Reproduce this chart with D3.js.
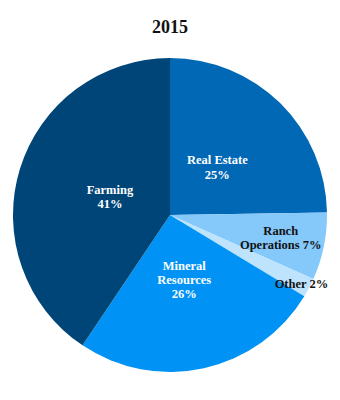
<!DOCTYPE html>
<html><head><meta charset="utf-8">
<script src="https://cdn.jsdelivr.net/npm/d3@7"></script>
<style>html,body{margin:0;padding:0;background:#fff;}</style>
</head><body>
<svg id="chart" width="340" height="400"></svg>
<script>
const title = "2015";
const categories = ["Real Estate", "Ranch Operations", "Other", "Mineral Resources", "Farming"];
const values = [25, 7, 2, 26, 41];
const labelLines = [["Real Estate", "25%"], ["Ranch", "Operations 7%"], ["Other 2%"], ["Mineral", "Resources", "26%"], ["Farming", "41%"]];
const colors = ["#0068b5", "#85c8fa", "#bde3fd", "#0093f5", "#004578"];
const labelColors = ["#fff", "#111", "#111", "#fff", "#fff"];

const svg = d3.select("#chart");
const cx = 170, cy = 215, r = 157;
svg.append("text").attr("x", 170).attr("y", 33).attr("text-anchor", "middle")
  .attr("font-family", "'Liberation Serif', 'Times New Roman', serif").attr("font-weight", "bold")
  .attr("font-size", 18).attr("fill", "#111").text(title);

const data = categories.map((c, i) => ({cat: c, value: values[i], i}));
const pie = d3.pie().value(d => d.value).sort(null);
const arc = d3.arc().innerRadius(0).outerRadius(r);
const g = svg.append("g").attr("transform", `translate(${cx},${cy})`);
const arcs = pie(data);
g.selectAll("path").data(arcs).enter().append("path")
  .attr("d", arc).attr("fill", d => colors[d.data.i]);

// label anchor positions as radial fraction of radius per slice
const labelRadius = [0.43, 0.72, 0.945, 0.42, 0.40];
const lineH = 14.3;
arcs.forEach((a, k) => {
  const mid = (a.startAngle + a.endAngle) / 2;
  const rr = labelRadius[k] * r;
  const x = Math.sin(mid) * rr, y = -Math.cos(mid) * rr;
  const lines = labelLines[a.data.i];
  const t = g.append("text").attr("text-anchor", "middle")
    .attr("font-family", "'Liberation Serif', 'Times New Roman', serif").attr("font-weight", "bold")
    .attr("font-size", 12.5).attr("fill", labelColors[a.data.i]);
  const y0 = y - (lines.length - 1) * lineH / 2 + 4.5;
  lines.forEach((s, j) => t.append("tspan").attr("x", x).attr("y", y0 + j * lineH).text(s));
});
</script>
</body></html>
